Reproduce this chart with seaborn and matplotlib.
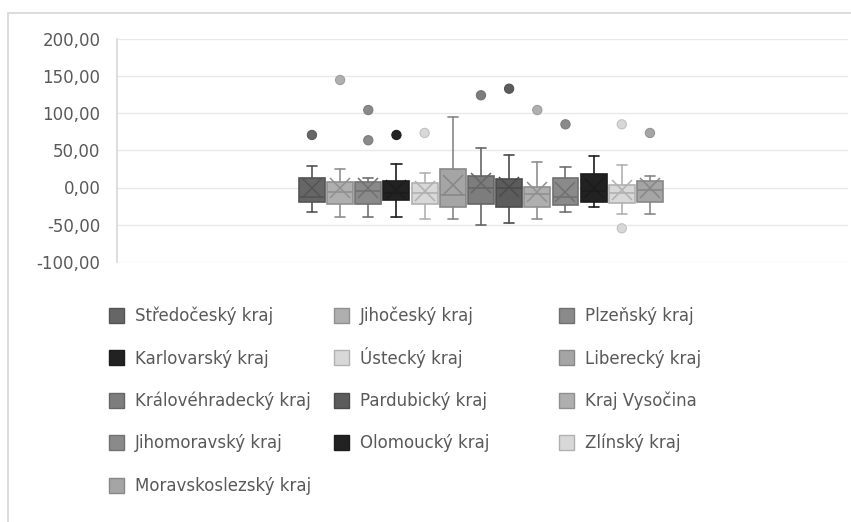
import numpy as np
import pandas as pd
import matplotlib
matplotlib.use("Agg")
import matplotlib.pyplot as plt
import matplotlib.patches as mpatches
import seaborn as sns
from matplotlib.ticker import FuncFormatter

# Regions (order of series in the chart)
regions = [
    "Středočeský kraj", "Jihočeský kraj", "Plzeňský kraj", "Karlovarský kraj",
    "Ústecký kraj", "Liberecký kraj", "Královéhradecký kraj", "Pardubický kraj",
    "Kraj Vysočina", "Jihomoravský kraj", "Olomoucký kraj", "Zlínský kraj",
    "Moravskoslezský kraj",
]

# Box statistics
whis_lo = [-33.3, -40.0, -40.0, -40.0, -42.7, -42.7, -49.9, -47.7, -42.7, -33.3, -25.8, -35.6, -35.6]
q1 = [-19.1, -22.1, -22.1, -16.8, -22.1, -25.8, -22.1, -25.8, -25.8, -23.9, -19.1, -21.2, -19.1]
medians = [-12.3, -6.4, -4.7, -8.0, -7.8, -10.1, -1.1, -1.1, -9.1, -12.3, -5.0, -7.8, -3.4]
q3 = [13.2, 7.8, 7.8, 8.7, 5.6, 25.2, 15.4, 11.0, 1.1, 13.2, 17.7, 3.4, 8.3]
whis_hi = [29.3, 24.8, 13.2, 31.9, 19.9, 94.6, 53.4, 44.0, 34.2, 27.1, 41.9, 29.8, 15.4]
means = [-1.1, -0.3, -0.3, -3.4, -4.7, 3.4, 5.6, 1.1, -5.6, -5.6, -1.1, -3.4, -0.3]

# Outliers: region index and value
flier_region = [0, 1, 2, 2, 3, 4, 6, 7, 8, 9, 11, 11, 12]
flier_value = [70.5, 144.3, 104.0, 63.4, 70.5, 73.2, 123.8, 132.6, 104.0, 84.8, 84.8, -54.8, 73.2]

colors = ["#666666", "#afafaf", "#8a8a8a", "#222222", "#d8d8d8", "#a5a5a5", "#7d7d7d",
          "#5c5c5c", "#afafaf", "#8a8a8a", "#222222", "#d8d8d8", "#a5a5a5"]

yticks = [-100, -50, 0, 50, 100, 150, 200]

sns.set_theme(style="white")
plt.rcParams["font.family"] = ["DejaVu Sans"]
text_color = "#595959"


def darker(c, f=0.82):
    r, g, b = matplotlib.colors.to_rgb(c)
    return (r * f, g * f, b * f)


W, H = 851, 522
fig = plt.figure(figsize=(W / 100, H / 100), dpi=100)
ax = fig.add_axes([117 / W, 1 - 262 / H, (848 - 117) / W, (262 - 38.5) / H])

stats = []
for i, name in enumerate(regions):
    stats.append({
        "label": name, "whislo": whis_lo[i], "q1": q1[i], "med": medians[i],
        "q3": q3[i], "whishi": whis_hi[i], "mean": means[i], "fliers": [],
    })

positions = np.arange(len(regions))
art = ax.bxp(stats, positions=positions, widths=0.92, capwidths=0.36,
             patch_artist=True, showmeans=True, showfliers=False,
             meanprops=dict(marker="x", markersize=14, markeredgewidth=1.1))

for i, c in enumerate(colors):
    edge = darker(c)
    art["boxes"][i].set_facecolor(c)
    art["boxes"][i].set_edgecolor(edge)
    art["boxes"][i].set_linewidth(1.2)
    art["medians"][i].set_color(edge)
    art["medians"][i].set_linewidth(1.2)
    art["means"][i].set_markeredgecolor(edge)
    for ln in art["whiskers"][2 * i:2 * i + 2] + art["caps"][2 * i:2 * i + 2]:
        ln.set_color(edge)
        ln.set_linewidth(1.2)

# outliers
fl = pd.DataFrame({"x": flier_region, "y": flier_value,
                   "region": [regions[i] for i in flier_region]})
sns.scatterplot(data=fl, x="x", y="y", hue="region",
                palette={regions[i]: colors[i] for i in range(len(regions))},
                s=44, edgecolor=[darker(colors[i], 0.9) for i in flier_region],
                linewidth=0.8, legend=False, ax=ax, zorder=3)

ax.set_xlim(-6.92, 19.03)
ax.set_ylim(-100, 200)
ax.set_yticks(yticks)
ax.yaxis.set_major_formatter(FuncFormatter(lambda v, p: f"{v:.2f}".replace(".", ",")))
ax.set_xticks([])
ax.set_xlabel("")
ax.set_ylabel("")
ax.grid(axis="y", color="#e9e9e9", linewidth=1)
ax.set_axisbelow(True)
for s in ["top", "right", "bottom"]:
    ax.spines[s].set_visible(False)
ax.spines["left"].set_color("#d9d9d9")
ax.tick_params(axis="y", length=0, pad=12, labelsize=12, labelcolor=text_color)

# legend laid out like Excel: filled row by row in three fixed-width columns
col_x = [109, 334, 559]
row_y0, row_step, sw = 315, 42.5, 15
for i, name in enumerate(regions):
    r, cidx = divmod(i, 3)
    x = col_x[cidx]
    yc = row_y0 + r * row_step
    fig.add_artist(mpatches.Rectangle((x / W, 1 - (yc + sw / 2) / H), sw / W, sw / H,
                                      transform=fig.transFigure, facecolor=colors[i],
                                      edgecolor=darker(colors[i]), linewidth=1.0))
    fig.text((x + 26) / W, 1 - (yc + 6) / H, name, fontsize=12, color=text_color,
             ha="left", va="baseline")

# outer chart frame
fig.add_artist(mpatches.Rectangle((8 / W, -0.2), 1.3, 1.2 - 13 / H, transform=fig.transFigure,
                                  fill=False, edgecolor="#d9d9d9", linewidth=1.3))

fig.savefig("out.png", dpi=100, facecolor="white")
